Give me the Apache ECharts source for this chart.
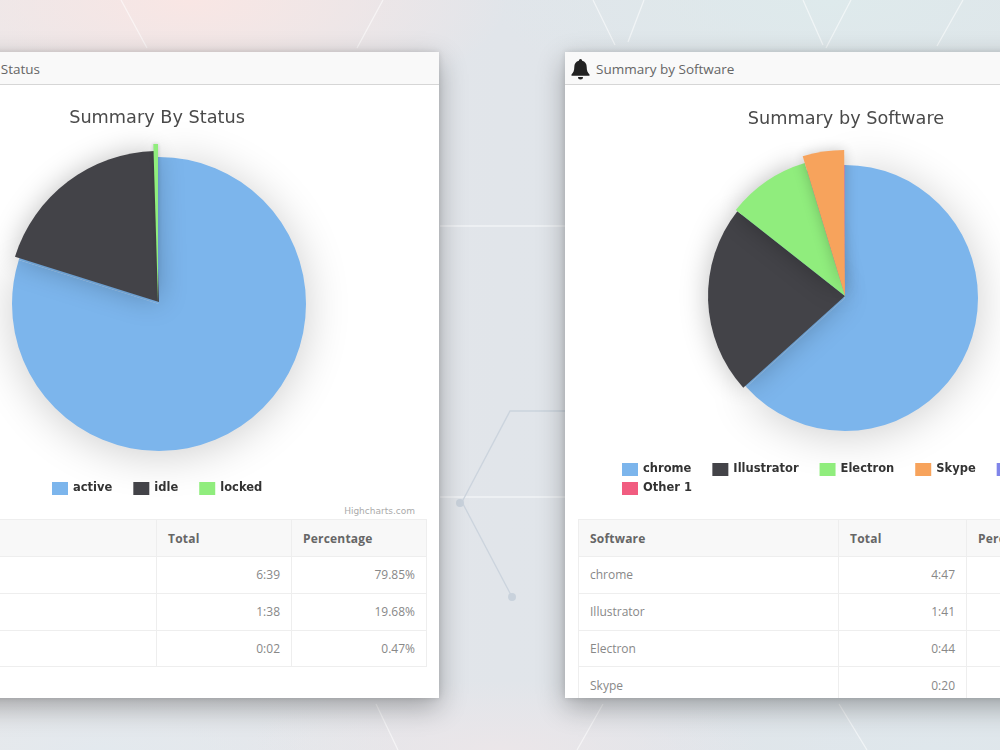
<!DOCTYPE html>
<html><head><meta charset="utf-8">
<script src="https://cdn.jsdelivr.net/npm/echarts@6/dist/echarts.min.js"></script>
<style>
html,body{margin:0;padding:0;width:1000px;height:750px;overflow:hidden;background:#e3e6ea}
#stage{position:absolute;left:0;top:0;width:1000px;height:750px;overflow:hidden;filter:blur(.6px);
 background:
  radial-gradient(ellipse 320px 120px at 190px 0px,#f9e6e4 0,rgba(249,230,228,0) 100%),
  radial-gradient(ellipse 340px 110px at 830px 0px,#deeaec 0,rgba(222,234,236,0) 100%),
  radial-gradient(ellipse 260px 70px at 500px 750px,#ebe6e9 0,rgba(235,230,233,0) 100%),
  radial-gradient(ellipse 300px 80px at 100px 750px,#e3e9ee 0,rgba(227,233,238,0) 100%),
  radial-gradient(ellipse 300px 80px at 930px 750px,#dfe7ec 0,rgba(223,231,236,0) 100%),
  linear-gradient(90deg,#e9e8ea,#e1e5ea 50%,#dfe5e9)}
#deco{position:absolute;left:0;top:0}
.card{position:absolute;top:52px;height:646px;background:#fff;box-shadow:0 9px 26px rgba(0,0,0,.3),0 0 6px rgba(0,0,0,.12);overflow:hidden}
#c1{left:-120px;width:559px}
#c2{left:565px;width:560px}
.head{position:absolute;left:0;right:0;top:0;height:32px;background:#f9f9f9;border-bottom:1px solid #d6d6d6;
 font:13.5px "Open Sans",sans-serif;color:#666;line-height:34px;white-space:nowrap}
#c1 .head span{position:absolute;right:399px}
#c2 .head span{position:absolute;left:31px}
#c2 svg{position:absolute;left:6px;top:7px}
table{position:absolute;border-collapse:collapse;table-layout:fixed;font:12px "Open Sans",sans-serif;color:#888}
td,th{border:1px solid #eee;height:36.75px;padding:0 11px;box-sizing:border-box;white-space:nowrap;overflow:hidden}
th{background:#f8f8f8;color:#666;font-weight:700;text-align:left;letter-spacing:.2px;height:37px}
td.r{text-align:right}
#t1{left:0;top:467px;width:546px}
#t2{left:13px;top:467px;width:520px}
#credit{position:absolute;right:24px;top:454px;font:9px "DejaVu Sans",sans-serif;color:#aaa}
#chart{position:absolute;left:0;top:0;width:1000px;height:750px}
</style></head><body>
<div id="stage">
<svg id="deco" width="1000" height="750" fill="none" stroke="#fff" stroke-opacity=".55" stroke-width="1.3">
 <path d="M121 0L147 48M383 0L357 48M593 0L615 45M644 0L628 42M803 0L823 45M851 0L826 48M963 0L937 46"/>
 <path d="M440 226H565M440 497H565"/>
 <path d="M565 411H510L462 502L512 597" stroke="#c9d2dc" stroke-opacity=".9"/>
 <circle cx="512" cy="597" r="4" fill="#c9d2dc" stroke="none"/><circle cx="460" cy="503" r="4" fill="#c9d2dc" stroke="none"/>
 <path d="M376 704L398 750M603 704L577 750M839 704L867 750"/>
</svg>
<div class="card" id="c1">
 <div class="head"><span id="h1"></span></div>
 <div id="credit"></div>
 <table id="t1"><colgroup><col style="width:276px"><col style="width:135px"><col style="width:135px"></colgroup><tbody></tbody></table>
</div>
<div class="card" id="c2">
 <div class="head"><svg width="19" height="21" viewBox="0 0 19 21"><path fill="#222" d="M9.5 0a1.6 1.6 0 0 1 1.6 1.7c3 .7 4.6 3.2 4.6 6.3 0 4 1 5.600 2.800 7.400v1.300H.5v-1.300C2.300 13.600 3.300 12 3.300 8c0-3.100 1.600-5.600 4.600-6.300A1.600 1.600 0 0 1 9.500 0zM7 18h5a2.500 2.500 0 0 1-5 0z"/></svg><span id="h2"></span></div>
 <table id="t2"><colgroup><col style="width:260px"><col style="width:128px"><col style="width:132px"></colgroup><tbody></tbody></table>
</div>
<div id="chart"></div>
</div>
<script>
var statusNames = ['active','idle','locked'];
var statusValues = [79.85,19.68,0.47];
var statusTotals = ['6:39','1:38','0:02'];
var statusPercents = ['79.85%','19.68%','0.47%'];
var softwareNames = ['chrome','Illustrator','Electron','Skype','Other','Other 1'];
var softwareMinutes = [287,101,44,20.8,0.2,0.2];
var softwareTotals = ['4:47','1:41','0:44','0:20'];
var softwareRows = ['chrome','Illustrator','Electron','Skype'];
var palette = ['#7cb5ec','#434348','#90ed7d','#f7a35c','#8085e9','#f15c80'];
var statusTitle = 'Summary By Status';
var softwareTitle = 'Summary by Software';

document.getElementById('h1').textContent = 'Status';
document.getElementById('h2').textContent = softwareTitle;
document.getElementById('credit').textContent = 'Highcharts.com';

function fillTable(id, heads, rows){
  var html = '<tr>' + heads.map(function(h){return '<th>'+h+'</th>';}).join('') + '</tr>';
  rows.forEach(function(r){
    html += '<tr>' + r.map(function(c,i){return '<td'+(i?' class="r"':'')+'>'+c+'</td>';}).join('') + '</tr>';
  });
  document.querySelector('#'+id+' tbody').innerHTML = html;
}
fillTable('t1',['Status','Total','Percentage'],statusNames.map(function(n,i){return [n,statusTotals[i],statusPercents[i]];}));
fillTable('t2',['Software','Total','Percentage'],softwareRows.map(function(n,i){return [n,softwareTotals[i],''];}));

// Each slice has its own radius in the picture, so each slice is one pie layer over the same values.
// The first layer is a full disc in the first colour so no gap shows where a slice's centre is shifted.
function layers(names, values, geoms){
  return geoms.map(function(g,k){
    return {
      type:'pie', silent:true, animation:false, startAngle:90,
      center:[g[0],g[1]], radius:[0,g[2]],
      label:{show:false}, labelLine:{show:false},
      itemStyle:{borderWidth:0},
      data:names.map(function(n,i){
        var style = {color:'rgba(0,0,0,0)',borderWidth:0};
        if (k===0) style = {color:palette[0],borderWidth:0};
        if (i===k) style = {color:palette[i],borderWidth:0,shadowBlur:g[3],shadowColor:'rgba(0,0,0,'+g[4]+')',shadowOffsetY:g[5]};
        return {name:n,value:values[i],itemStyle:style};
      })
    };
  });
}
function legendData(names, start){
  return names.map(function(n,i){return {name:n,itemStyle:{color:palette[start+i]}};});
}
var legendBase = {type:'plain',orient:'horizontal',width:520,itemWidth:16,itemHeight:13,itemGap:21,padding:0,
  selectedMode:false,icon:'rect',
  textStyle:{fontFamily:'"DejaVu Sans",sans-serif',fontWeight:'bold',fontSize:11.5,color:'#333'}};
function legendAt(left,top,data){return Object.assign({},legendBase,{left:left,top:top,data:data});}
var titleStyle = {fontFamily:'"DejaVu Sans",sans-serif',fontWeight:'normal',fontSize:17.7,color:'#4a4a4a'};

var chart = echarts.init(document.getElementById('chart'),null,{renderer:'canvas'});
chart.setOption({
  backgroundColor:'transparent',
  title:[
    {text:statusTitle,left:157,top:109,padding:0,textAlign:'center',textStyle:titleStyle},
    {text:softwareTitle,left:846,top:110,padding:0,textAlign:'center',textStyle:titleStyle}
  ],
  legend:[
    legendAt(52,482,legendData(statusNames,0)),
    legendAt(622,463,legendData(softwareNames.slice(0,5),0)),
    legendAt(622,482,legendData(softwareNames.slice(5),5))
  ],
  series:[].concat(
    layers(statusNames,statusValues,[[159,304,147,45,0.2,4],[159,302,151,28,0.25,0],[158,302,158,4,0.2,0]]),
    layers(softwareNames,softwareMinutes,[[845,298,133,45,0.2,4],[845,296,137,28,0.25,0],[845,296,139,24,0.28,0],[845,296,146,14,0.22,0],[845,298,133,0,0,0],[845,298,133,0,0,0]])
  )
});
</script>
</body></html>
